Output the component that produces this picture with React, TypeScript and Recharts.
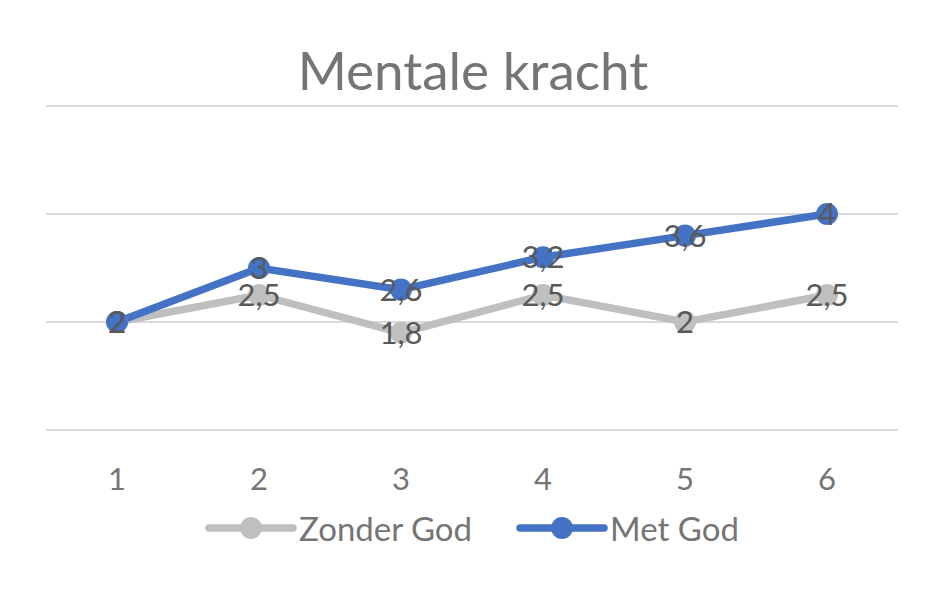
import React from "react";
import { LineChart, Line, XAxis, YAxis, CartesianGrid, Legend, LabelList } from "recharts";

const categories = ["1", "2", "3", "4", "5", "6"];
const zonderGod = [2, 2.5, 1.8, 2.5, 2, 2.5];
const metGod = [2, 3, 2.6, 3.2, 3.6, 4];
const yTicks = [0, 2, 4, 6];

const data = categories.map((c, i) => ({ cat: c, zonder: zonderGod[i], met: metGod[i] }));

const FONT = "Lato, 'Open Sans', sans-serif";
const fmt = (v: any) => String(v).replace(".", ",");

const LegendContent = () => {
  const items = [
    { name: "Zonder God", color: "#BFBFBF" },
    { name: "Met God", color: "#4472C4" },
  ];
  return (
    <div style={{ height: 82, display: "flex", justifyContent: "center", alignItems: "flex-start", fontFamily: FONT }}>
      {items.map((it, i) => (
        <div key={i} style={{ display: "flex", alignItems: "center", height: 36, marginLeft: i ? 44 : 0 }}>
          <svg width={92} height={26} style={{ display: "block" }}>
            <line x1={4} y1={13} x2={88} y2={13} stroke={it.color} strokeWidth={7.5} strokeLinecap="round" />
            <circle cx={46} cy={13} r={11} fill={it.color} />
          </svg>
          <span style={{ fontSize: 33, color: "#757575", marginLeft: 2 }}>{it.name}</span>
        </div>
      ))}
    </div>
  );
};

export default function App() {
  return (
    <div style={{ position: "absolute", left: 0, top: 0, width: 946, height: 592, background: "#fff" }}>
      <div
        style={{
          position: "absolute",
          top: 38,
          left: 0,
          width: 946,
          textAlign: "center",
          fontFamily: FONT,
          fontSize: 53,
          color: "#757575",
          lineHeight: "64px",
        }}
      >
        Mentale kracht
      </div>
      <LineChart width={946} height={592} data={data} margin={{ top: 106, right: 48, left: 46, bottom: 0 }}>
        <CartesianGrid horizontal vertical={false} stroke="#D9D9D9" strokeWidth={2} />
        <XAxis
          dataKey="cat"
          axisLine={false}
          tickLine={false}
          tickSize={0}
          tickMargin={38}
          height={80}
          padding={{ left: 71, right: 71 }}
          tick={{ fontSize: 31, fill: "#757575", fontFamily: FONT }}
          interval={0}
        />
        <YAxis hide domain={[0, 6]} ticks={yTicks} />
        <Legend verticalAlign="bottom" content={<LegendContent />} />
        <Line
          dataKey="zonder"
          name="Zonder God"
          stroke="#BFBFBF"
          strokeWidth={7.5}
          dot={{ r: 11, fill: "#BFBFBF", stroke: "none" }}
          activeDot={false}
          isAnimationActive={false}
        >
          <LabelList dataKey="zonder" position="center" formatter={fmt} style={{ fontSize: 31, fill: "#595959", fontFamily: FONT }} />
        </Line>
        <Line
          dataKey="met"
          name="Met God"
          stroke="#4472C4"
          strokeWidth={7.5}
          dot={{ r: 11, fill: "#4472C4", stroke: "none" }}
          activeDot={false}
          isAnimationActive={false}
        >
          <LabelList dataKey="met" position="center" formatter={fmt} style={{ fontSize: 31, fill: "#595959", fontFamily: FONT }} />
        </Line>
      </LineChart>
    </div>
  );
}
